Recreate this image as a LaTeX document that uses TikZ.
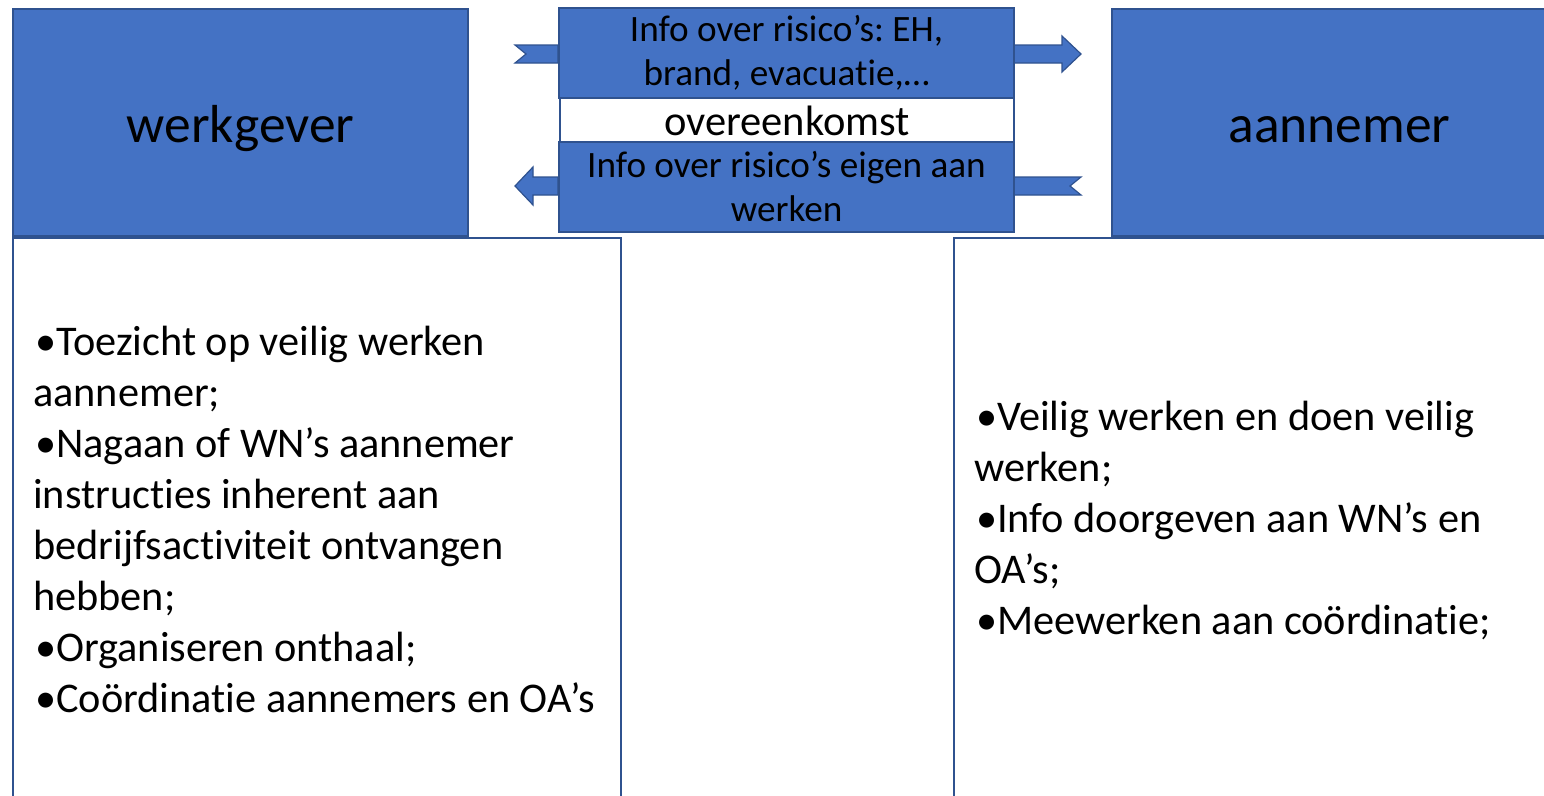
\documentclass[tikz,border=0pt]{standalone}
\usepackage{fontspec}
\setmainfont{Carlito}[Ligatures=NoCommon]
\definecolor{fillblue}{HTML}{4472C4}
\definecolor{edgeblue}{HTML}{2F528F}
\frenchspacing
\begin{document}
\begin{tikzpicture}[x=1pt,y=-1pt,
  bluebox/.style={draw=edgeblue, fill=fillblue, line width=2pt, inner sep=0pt, anchor=north west},
  whitebox/.style={draw=edgeblue, fill=white, line width=2pt, inner sep=0pt, anchor=north west},
  blockarrow/.style={draw=edgeblue, fill=fillblue, line width=1.2pt, line join=miter},
  titlefont/.style={font=\fontsize{53.5}{64}\selectfont},
  midfont/.style={font=\fontsize{37.2}{44}\selectfont, align=center},
  ovfont/.style={font=\fontsize{42.5}{50}\selectfont},
  listtext/.style={anchor=base west, inner sep=0pt, font=\fontsize{42.3}{51}\selectfont}]
\useasboundingbox (0,0) rectangle (1544,795);
\clip (0,0) rectangle (1544,795);
% lower white panels
\node[whitebox, minimum width=608pt, minimum height=600pt] (lb) at (12,237) {};
\node[whitebox, minimum width=700pt, minimum height=600pt] (rb) at (953,237) {};
% party boxes
\node[bluebox, minimum width=455pt, minimum height=227pt, titlefont] (wg) at (12,8) {\raisebox{-19.5pt}[0pt][0pt]{werkgever}};
\node[bluebox, minimum width=455pt, minimum height=227pt, titlefont] (an) at (1111,8) {\raisebox{-19.5pt}[0pt][0pt]{aannemer}};
% block arrows
\draw[blockarrow] (558,45) -- (515,45) -- (526,54) -- (515,63) -- (558,63) -- cycle;
\draw[blockarrow] (1013,45) -- (1062,45) -- (1062,36) -- (1081,54) -- (1062,72) -- (1062,63) -- (1013,63) -- cycle;
\draw[blockarrow] (558,177) -- (533,177) -- (533,167) -- (515,186) -- (533,205) -- (533,195) -- (558,195) -- cycle;
\draw[blockarrow] (1013,177) -- (1081,177) -- (1070,186) -- (1081,195) -- (1013,195) -- cycle;
% central boxes
\node[bluebox, minimum width=455pt, minimum height=90pt, midfont] (top) at (558,7) {Info over risico’s: EH,\\brand, evacuatie,…};
\node[whitebox, minimum width=454pt, minimum height=44pt, ovfont] (ov) at (559,97) {\raisebox{-15pt}[0pt][0pt]{overeenkomst}};
\node[bluebox, minimum width=455pt, minimum height=90pt, midfont] (bot) at (558,141) {Info over risico’s eigen aan\\werken};
% lists
\node[listtext] (lt) at (33,355) {\parbox[t]{600pt}{\raggedright
\hspace*{2pt}•Toezicht op veilig werken\\
aannemer;\\
\hspace*{2pt}•Nagaan of WN’s aannemer\\
instructies inherent aan\\
bedrijfsactiviteit ontvangen\\
hebben;\\
\hspace*{2pt}•Organiseren onthaal;\\
\hspace*{2pt}•Coördinatie aannemers en OA’s}};
\node[listtext] (rt) at (974,430) {\parbox[t]{600pt}{\raggedright
\hspace*{2pt}•Veilig werken en doen veilig\\
werken;\\
\hspace*{2pt}•Info doorgeven aan WN’s en\\
OA’s;\\
\hspace*{2pt}•Meewerken aan coördinatie;}};
\end{tikzpicture}
\end{document}
